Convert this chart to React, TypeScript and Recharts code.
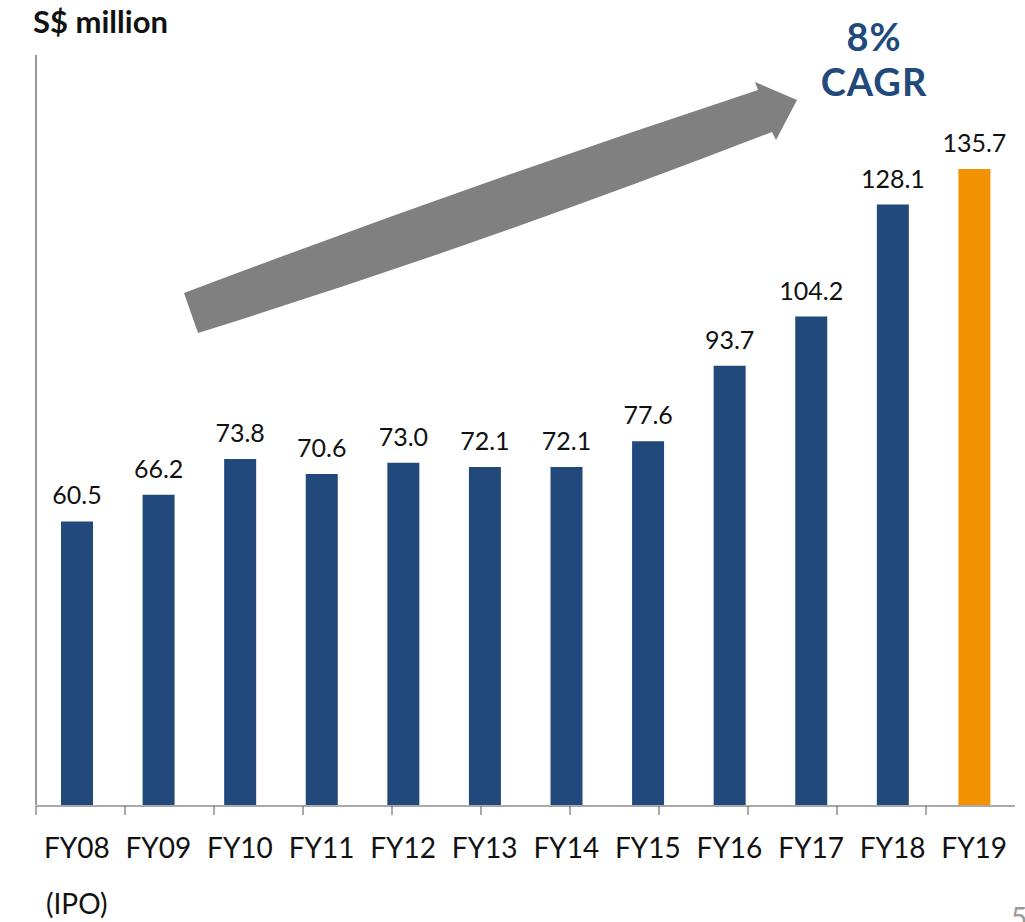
import { BarChart, Bar, XAxis, YAxis, Cell, LabelList } from 'recharts';

const years = ['FY08', 'FY09', 'FY10', 'FY11', 'FY12', 'FY13', 'FY14', 'FY15', 'FY16', 'FY17', 'FY18', 'FY19'];
const revenue = [60.5, 66.2, 73.8, 70.6, 73.0, 72.1, 72.1, 77.6, 93.7, 104.2, 128.1, 135.7];
const subLabels = ['(IPO)', '', '', '', '', '', '', '', '', '', '', ''];
const boundaryTicks = [0, 1, 2, 3, 4, 5, 6, 7, 8, 9, 10, 11, 12];

const BLUE = '#21497b';
const ORANGE = '#f39200';
const FONT = 'Lato, "Noto Sans", sans-serif';

const data = years.map((year, i) => ({ year, value: revenue[i], sub: subLabels[i] }));

// category label plus optional second line
const YearTick = ({ x, y, payload, index }: any) => (
  <g>
    <text x={x} y={y + 45} textAnchor="middle" fontSize={28} fontFamily={FONT} fill="#111">
      {payload.value}
    </text>
    {subLabels[index] ? (
      <text x={x} y={y + 101} textAnchor="middle" fontSize={28} fontFamily={FONT} fill="#111">
        {subLabels[index]}
      </text>
    ) : null}
  </g>
);

export default function App() {
  return (
    <div style={{ position: 'absolute', left: 0, top: 0, width: 1025, height: 922, background: '#fff', fontFamily: FONT, overflow: 'hidden' }}>
      <div style={{ position: 'absolute', left: 33, top: 2, fontSize: 31, fontWeight: 700, color: '#111' }}>S$ million</div>
      <div style={{ position: 'absolute', left: 799, top: 14, width: 150, textAlign: 'center', fontSize: 38, fontWeight: 700, color: '#21497b', lineHeight: '45px', letterSpacing: 1 }}>
        8%<br />CAGR
      </div>
      <svg style={{ position: 'absolute', left: 0, top: 0 }} width={1025} height={922}>
        <path
          d="M184 293 Q470 185 758 90 L755 82 L797 100 L776 140 L772 132 Q480 245 198 333 Z"
          fill="#808080"
        />
      </svg>
      <div style={{ position: 'absolute', left: 0, top: 0 }}>
        <BarChart width={1025} height={922} data={data} margin={{ top: 55, right: 10, left: 35, bottom: 0 }}>
          <XAxis dataKey="year" height={1} axisLine={false} tickLine={false} tick={<YearTick />} interval={0} />
          <XAxis
            xAxisId="b"
            type="number"
            domain={[0, 12]}
            ticks={boundaryTicks}
            height={116}
            tick={() => null}
            tickSize={9}
            tickLine={{ stroke: '#555' }}
            axisLine={{ stroke: '#555' }}
          />
          <YAxis width={1} domain={[0, 160]} tick={false} tickLine={false} axisLine={{ stroke: '#333' }} />
          <Bar dataKey="value" barSize={32} isAnimationActive={false}>
            {data.map((d, i) => (
              <Cell key={d.year} fill={i === data.length - 1 ? ORANGE : BLUE} />
            ))}
            <LabelList dataKey="value" position="top" offset={17} fontSize={25} fontFamily={FONT} fill="#111" formatter={(v: any) => Number(v).toFixed(1)} />
          </Bar>
        </BarChart>
      </div>
      <div style={{ position: 'absolute', left: 1011, top: 900, fontSize: 28, color: '#999' }}>5</div>
    </div>
  );
}
